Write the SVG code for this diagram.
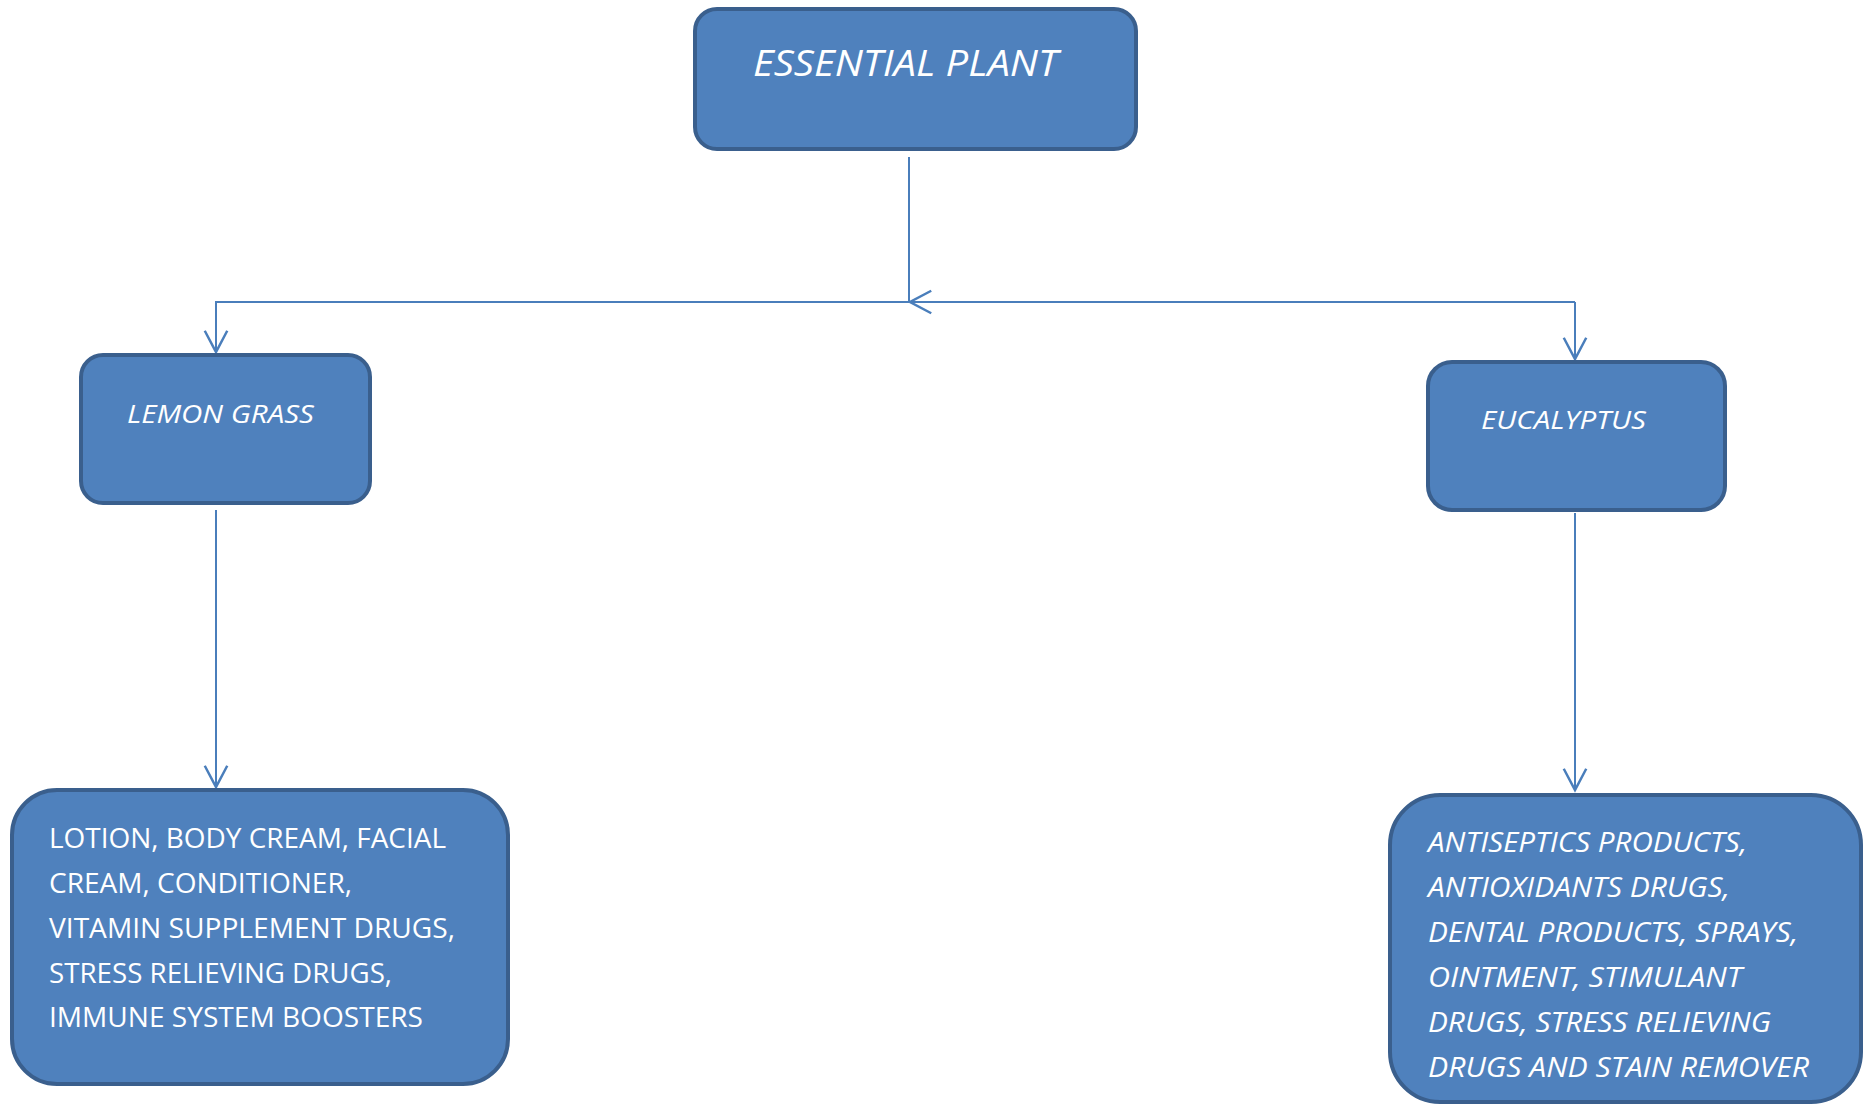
<svg xmlns="http://www.w3.org/2000/svg" width="1869" height="1106" viewBox="0 0 1869 1106">
<style>
.box{fill:#4f81bd;stroke:#3a5f8d;stroke-width:4}
.t{fill:#ffffff;font-family:"Open Sans","Liberation Sans",sans-serif}
.i{font-style:italic}
.c{fill:none;stroke:#4a7ebb;stroke-width:2}
</style>
<defs>
<marker id="arr" markerUnits="userSpaceOnUse" markerWidth="30" markerHeight="30" viewBox="-20 -12 22 24" refX="0" refY="0" orient="auto">
<path d="M-17,-9 L0,0 L-17,9" fill="none" stroke="#4a7ebb" stroke-width="2"/>
</marker>
</defs>
<rect width="1869" height="1106" fill="#ffffff"/>
<g id="connectors">
<line class="c" x1="909" y1="157" x2="909" y2="302"/>
<line class="c" x1="1575" y1="302" x2="910" y2="302" marker-end="url(#arr)"/>
<polyline class="c" points="909,302 216,302 216,352" marker-end="url(#arr)"/>
<line class="c" x1="1575" y1="302" x2="1575" y2="359" marker-end="url(#arr)"/>
<line class="c" x1="216" y1="510" x2="216" y2="787" marker-end="url(#arr)"/>
<line class="c" x1="1575" y1="513" x2="1575" y2="790" marker-end="url(#arr)"/>
</g>
<g id="essential-plant">
<rect class="box" x="695" y="9" width="441" height="140" rx="22"/>
<text class="t i" x="753" y="76" font-size="37" textLength="305" lengthAdjust="spacingAndGlyphs">ESSENTIAL PLANT</text>
</g>
<g id="lemon-grass">
<rect class="box" x="81" y="355" width="289" height="148" rx="22"/>
<text class="t i" x="127" y="423" font-size="26" textLength="187" lengthAdjust="spacingAndGlyphs">LEMON GRASS</text>
</g>
<g id="eucalyptus">
<rect class="box" x="1428" y="362" width="297" height="148" rx="24"/>
<text class="t i" x="1481" y="429" font-size="26" textLength="165" lengthAdjust="spacingAndGlyphs">EUCALYPTUS</text>
</g>
<g id="lemon-grass-uses">
<rect class="box" x="12" y="790" width="496" height="294" rx="45"/>
<g class="t" font-size="28">
<text x="49" y="848" textLength="397" lengthAdjust="spacingAndGlyphs">LOTION, BODY CREAM, FACIAL</text>
<text x="49" y="893" textLength="303" lengthAdjust="spacingAndGlyphs">CREAM, CONDITIONER,</text>
<text x="49" y="938" textLength="406" lengthAdjust="spacingAndGlyphs">VITAMIN SUPPLEMENT DRUGS,</text>
<text x="49" y="983" textLength="343" lengthAdjust="spacingAndGlyphs">STRESS RELIEVING DRUGS,</text>
<text x="49" y="1027" textLength="374" lengthAdjust="spacingAndGlyphs">IMMUNE SYSTEM BOOSTERS</text>
</g>
</g>
<g id="eucalyptus-uses">
<rect class="box" x="1390" y="795" width="471" height="307" rx="50"/>
<g class="t i" font-size="27">
<text x="1428" y="852" textLength="319" lengthAdjust="spacingAndGlyphs">ANTISEPTICS PRODUCTS,</text>
<text x="1428" y="897" textLength="302" lengthAdjust="spacingAndGlyphs">ANTIOXIDANTS DRUGS,</text>
<text x="1428" y="942" textLength="370" lengthAdjust="spacingAndGlyphs">DENTAL PRODUCTS, SPRAYS,</text>
<text x="1428" y="987" textLength="314" lengthAdjust="spacingAndGlyphs">OINTMENT, STIMULANT</text>
<text x="1428" y="1032" textLength="343" lengthAdjust="spacingAndGlyphs">DRUGS, STRESS RELIEVING</text>
<text x="1428" y="1077" textLength="381" lengthAdjust="spacingAndGlyphs">DRUGS AND STAIN REMOVER</text>
</g>
</g>
</svg>
